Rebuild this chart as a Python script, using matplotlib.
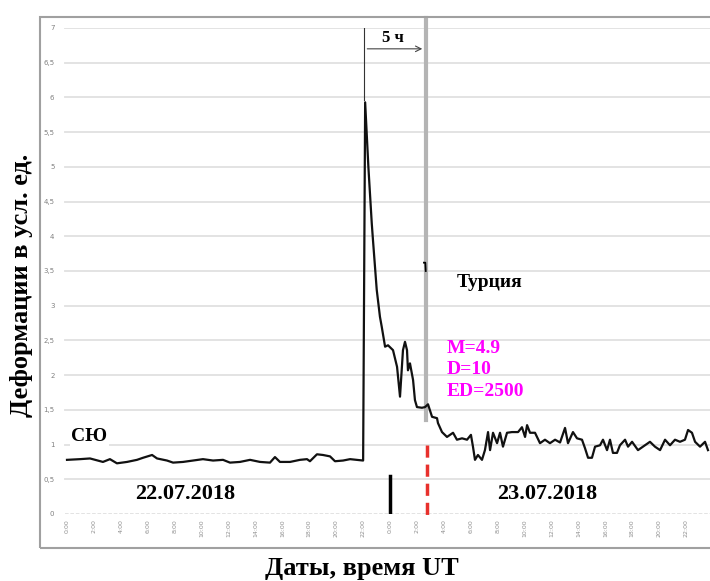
import numpy as np
import matplotlib
matplotlib.use("Agg")
from matplotlib import pyplot as plt
from matplotlib.patches import Rectangle

# hours since 22.07.2018 00:00 UT
hours = [0.0, 0.97, 1.71, 2.67, 3.19, 3.71, 4.46, 5.20, 5.65, 6.32, 6.69, 7.43, 7.88,
         8.62, 9.36, 10.10, 10.85, 11.59, 12.11, 12.85, 13.60, 14.34, 15.08, 15.45,
         15.82, 16.57, 17.31, 17.83, 18.05, 18.57, 19.02, 19.54, 19.91, 20.51, 21.03,
         21.55, 22.0, 22.15, 22.29, 22.39, 22.64, 22.73, 23.01, 23.25, 23.38, 23.63,
         23.85, 24.22, 24.52, 24.74, 24.96, 25.11, 25.26, 25.33, 25.48, 25.71, 25.85,
         26.0, 26.37, 26.6, 26.82, 27.12, 27.49, 27.56, 27.86, 28.23, 28.68, 28.97,
         29.35, 29.72, 30.01, 30.16, 30.31, 30.53, 30.83, 31.05, 31.28, 31.43, 31.65,
         31.95, 32.17, 32.39, 32.69, 33.06, 33.51, 33.80, 34.03, 34.18, 34.40, 34.77,
         35.14, 35.51, 35.88, 36.26, 36.63, 37.0, 37.22, 37.59, 37.89, 38.26, 38.48,
         38.71, 39.0, 39.23, 39.6, 39.82, 40.12, 40.34, 40.56, 40.86, 41.08, 41.46,
         41.68, 41.98, 42.42, 42.79, 43.31, 43.68, 44.06, 44.43, 44.80, 45.17, 45.54,
         45.91, 46.14, 46.43, 46.66, 47.03, 47.40, 47.62]
deform = [0.78, 0.79, 0.80, 0.75, 0.79, 0.73, 0.75, 0.78, 0.81, 0.85, 0.80, 0.77, 0.74,
          0.75, 0.77, 0.79, 0.77, 0.78, 0.74, 0.75, 0.78, 0.75, 0.74, 0.82,
          0.75, 0.75, 0.78, 0.79, 0.76, 0.86, 0.85, 0.83, 0.76, 0.77, 0.79,
          0.78, 0.77, 5.93, 5.40, 5.00, 4.19, 3.95, 3.23, 2.84, 2.70, 2.41,
          2.43, 2.36, 2.12, 1.69, 2.36, 2.48, 2.36, 2.07, 2.17, 1.93, 1.64,
          1.54, 1.53, 1.54, 1.58, 1.40, 1.38, 1.31, 1.18, 1.11, 1.17, 1.07,
          1.09, 1.07, 1.14, 0.97, 0.78, 0.85, 0.78, 0.92, 1.18, 0.92, 1.17,
          1.02, 1.17, 0.97, 1.17, 1.18, 1.18, 1.25, 1.11, 1.28, 1.17, 1.17,
          1.02, 1.07, 1.02, 1.07, 1.03, 1.24, 1.02, 1.18, 1.09, 1.07, 0.95,
          0.81, 0.81, 0.97, 0.99, 1.07, 0.92, 1.07, 0.88, 0.88, 0.99, 1.07,
          0.97, 1.04, 0.92, 0.97, 1.04, 0.97, 0.92, 1.07, 0.99, 1.07, 1.04,
          1.07, 1.21, 1.17, 1.04, 0.97, 1.04, 0.92]

tick_hours = list(range(0, 48, 2))
tick_labels = ["%d:00" % (h % 24) for h in tick_hours]
y_ticks = [0, 0.5, 1, 1.5, 2, 2.5, 3, 3.5, 4, 4.5, 5, 5.5, 6, 6.5, 7]
y_labels = [("%g" % v).replace(".", ",") for v in y_ticks]

onset = 22.1        # start of the jump
quake = 26.7        # Turkey event
midnight = 24.0

serif = "Liberation Serif"

fig = plt.figure(figsize=(7.1, 5.81), dpi=100)
# outer frame (right side runs off the picture)
fig.patches.append(Rectangle((40 / 710, 1 - 548 / 581), 1.02 - 40 / 710, (548 - 17) / 581,
                             transform=fig.transFigure, fill=False, edgecolor="#a0a0a0",
                             linewidth=1.5))
ax = fig.add_axes([60 / 710, 1 - 514 / 581, 650 / 710, 486 / 581])
ax.set_xlim(-0.52, 47.77)
ax.set_ylim(0, 7)
for s in ax.spines.values():
    s.set_visible(False)

for v in y_ticks:
    ax.axhline(v, xmin=0.008, color="#e0e0e0", lw=1.3, zorder=0,
               ls=(0, (2, 1)) if v == 0 else "-")

ax.set_yticks(y_ticks)
ax.set_yticklabels(y_labels, fontsize=5, color="#808080")
ax.set_xticks(tick_hours)
ax.set_xticklabels(tick_labels, rotation=90, fontsize=4.5, color="#909090")
ax.tick_params(length=0, pad=4)

# grey marker of the event
ax.plot([quake, quake], [1.35, 7.14], color="#b4b4b4", lw=3, zorder=1, clip_on=False)

ax.plot(hours, deform, color="#111111", lw=1.6, zorder=3)

# onset line and "5 h" arrow
ax.plot([onset, onset], [5.97, 7], color="#333333", lw=0.8, zorder=2)
ax.annotate("", xy=(quake - 0.1, 6.7), xytext=(onset, 6.7),
            arrowprops=dict(arrowstyle="->", color="#444444", lw=0.8))
ax.text(24.2, 6.74, "5 ч", family=serif, fontweight="bold", fontsize=12,
        ha="center", va="bottom")

# small stray mark near the event line
ax.plot([26.52, 26.62, 26.65], [3.62, 3.62, 3.5], color="black", lw=1.3, zorder=3)

ax.plot([midnight, midnight], [0, 0.55], color="black", lw=2.5, zorder=4)
ax.plot([26.75, 26.75], [1.0, -0.08], color="#e8302c", lw=2.5,
        ls=(0, (3.5, 2)), zorder=4, clip_on=False)

box = dict(facecolor="white", edgecolor="none", pad=1)
ax.text(0.3, 1.11, "СЮ", family=serif, fontweight="bold", fontsize=14,
        ha="left", va="center", bbox=box)
ax.text(8.8, 0.29, "22.07.2018", family=serif, fontweight="bold", fontsize=16,
        ha="center", va="center", bbox=box)
ax.text(35.7, 0.29, "23.07.2018", family=serif, fontweight="bold", fontsize=16,
        ha="center", va="center", bbox=box)
ax.text(31.4, 3.33, "Турция", family=serif, fontweight="bold", fontsize=14,
        ha="center", va="center", bbox=box)
for i, line in enumerate(["M=4.9", "D=10", "ED=2500"]):
    ax.text(28.2, 2.39 - i * 0.31, line, family=serif, fontweight="bold",
            fontsize=14, color="#ff00ff", ha="left", va="center")

fig.text(22 / 710, 1 - 285 / 581, "Деформации в усл. ед.", family=serif,
         fontweight="bold", fontsize=19, rotation=90, ha="center", va="center")
fig.text(362 / 710, 1 - 568 / 581, "Даты, время UT", family=serif,
         fontweight="bold", fontsize=19, ha="center", va="center")

fig.savefig("out.png", dpi=100)
